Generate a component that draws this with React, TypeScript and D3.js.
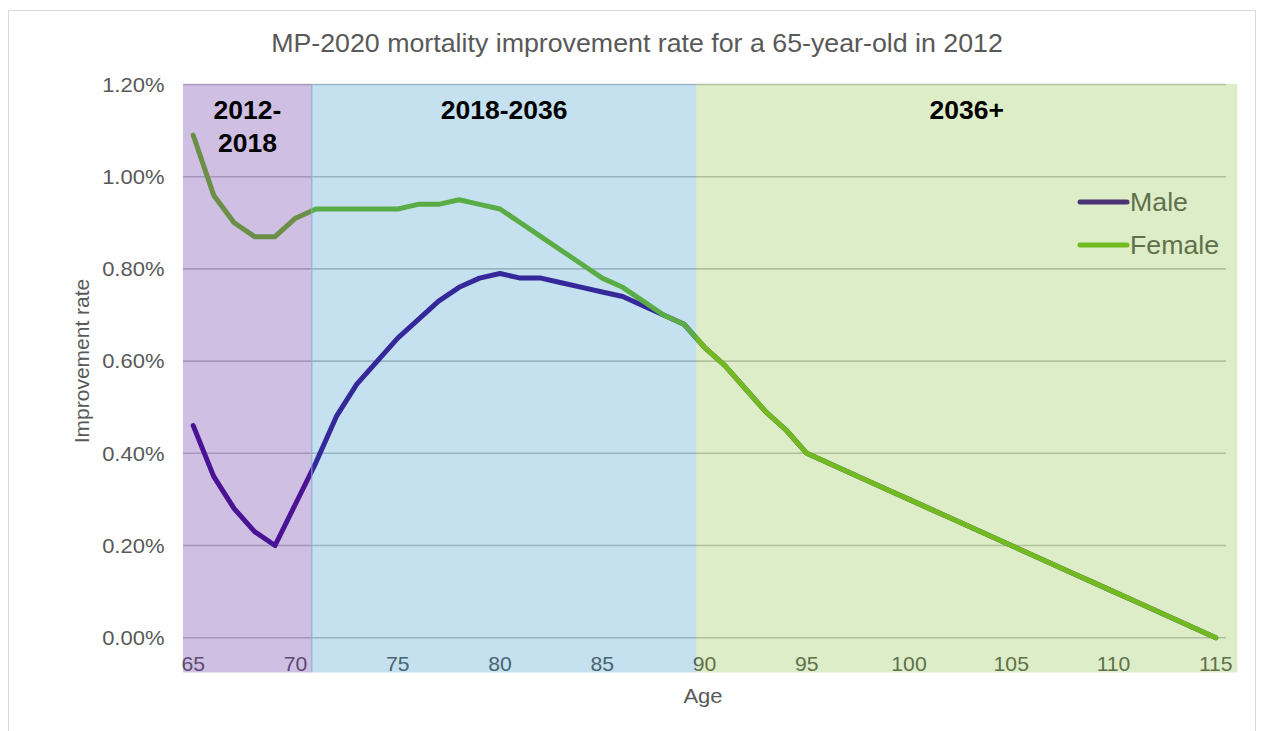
import React from "react";
import * as d3 from "d3";

const ages = d3.range(65, 116);

const maleRates = [
  0.46, 0.35, 0.28, 0.23, 0.2, 0.29, 0.38, 0.48, 0.55, 0.6, 0.65, 0.69, 0.73,
  0.76, 0.78, 0.79, 0.78, 0.78, 0.77, 0.76, 0.75, 0.74, 0.72, 0.7, 0.68, 0.63,
  0.59, 0.54, 0.49, 0.45, 0.4, 0.38, 0.36, 0.34, 0.32, 0.3, 0.28, 0.26, 0.24,
  0.22, 0.2, 0.18, 0.16, 0.14, 0.12, 0.1, 0.08, 0.06, 0.04, 0.02, 0.0,
];

const femaleRates = [
  1.09, 0.96, 0.9, 0.87, 0.87, 0.91, 0.93, 0.93, 0.93, 0.93, 0.93, 0.94, 0.94,
  0.95, 0.94, 0.93, 0.9, 0.87, 0.84, 0.81, 0.78, 0.76, 0.73, 0.7, 0.68, 0.63,
  0.59, 0.54, 0.49, 0.45, 0.4, 0.38, 0.36, 0.34, 0.32, 0.3, 0.28, 0.26, 0.24,
  0.22, 0.2, 0.18, 0.16, 0.14, 0.12, 0.1, 0.08, 0.06, 0.04, 0.02, 0.0,
];

const yTicks = [0, 0.2, 0.4, 0.6, 0.8, 1.0, 1.2];
const xTicks = [65, 70, 75, 80, 85, 90, 95, 100, 105, 110, 115];

// projection periods shaded over the curves (age ranges)
const periodLabels = [["2012-", "2018"], ["2018-2036"], ["2036+"]];
const periodStart = [64.5, 70.8, 89.6];
const periodEnd = [70.8, 89.6, 116.05];
const periodColors = ["#5f2aa2", "#1783bb", "#73b723"];
const periodOpacity = [0.3, 0.25, 0.25];

const seriesNames = ["Male", "Female"];
const seriesColors = ["#3f0a8f", "#70bb1f"];

const font = "'Liberation Sans', Arial, sans-serif";
const grey = "#595959";

// the original picture is a little wider than tall, so text gets stretched too
const at = (x: number, y: number, sx: number) =>
  `translate(${x},${y}) scale(${sx},1)`;

const App = () => {
  const width = 1265;
  const height = 731;
  const x = d3.scaleLinear().domain([64.5, 115.5]).range([183, 1226]);
  const y = d3.scaleLinear().domain([0, 1.2]).range([637.7, 84.5]);
  const bandTop = 84;
  const bandBottom = 672.5;

  const line = d3
    .line<number>()
    .x((d, i) => x(ages[i]))
    .y((d) => y(d));

  const series = [maleRates, femaleRates];

  return (
    <div style={{ position: "absolute", left: 0, top: 0 }}>
      <svg width={width} height={height} style={{ display: "block" }}>
        <rect width={width} height={height} fill="#fff" />
        <rect
          x={8.5}
          y={10.5}
          width={1247}
          height={740}
          fill="none"
          stroke="#d9d9d9"
          strokeWidth={1}
        />
        <text
          transform={at(637, 52, 1.05)}
          textAnchor="middle"
          fontFamily={font}
          fontSize={25.5}
          fill={grey}
        >
          MP-2020 mortality improvement rate for a 65-year-old in 2012
        </text>

        {yTicks.map((t) => (
          <g key={t}>
            <line
              x1={x.range()[0]}
              x2={x.range()[1]}
              y1={y(t)}
              y2={y(t)}
              stroke="#c4c4c4"
              strokeWidth={1.6}
            />
            <text
              transform={at(164.5, y(t), 1.1)}
              dy="0.36em"
              textAnchor="end"
              fontFamily={font}
              fontSize={20}
              fill={grey}
            >
              {d3.format(".2f")(t) + "%"}
            </text>
          </g>
        ))}

        {xTicks.map((t) => (
          <text
            key={t}
            transform={at(x(t), 671, 1.06)}
            textAnchor="middle"
            fontFamily={font}
            fontSize={20}
            fill={grey}
          >
            {t}
          </text>
        ))}

        <text
          transform={at(703, 703, 1.05)}
          textAnchor="middle"
          fontFamily={font}
          fontSize={21}
          fill={grey}
        >
          Age
        </text>
        <text
          transform={`translate(89,361) rotate(-90)`}
          textAnchor="middle"
          fontFamily={font}
          fontSize={21}
          fill={grey}
        >
          Improvement rate
        </text>

        {series.map((s, i) => (
          <path
            key={seriesNames[i]}
            d={line(s) || ""}
            fill="none"
            stroke={seriesColors[i]}
            strokeWidth={5}
            strokeLinejoin="round"
            strokeLinecap="round"
          />
        ))}

        {seriesNames.map((name, i) => (
          <g key={name} transform={`translate(1080,${202 + i * 43})`}>
            <line
              x1={0}
              x2={47}
              y1={0}
              y2={0}
              stroke={seriesColors[i]}
              strokeWidth={5}
              strokeLinecap="round"
            />
            <text
              transform={at(50, 0, 1.07)}
              dy="0.36em"
              fontFamily={font}
              fontSize={25}
              fill={grey}
            >
              {name}
            </text>
          </g>
        ))}

        {periodStart.map((s, i) => (
          <rect
            key={i}
            x={x(s)}
            y={bandTop}
            width={x(periodEnd[i]) - x(s)}
            height={bandBottom - bandTop}
            fill={periodColors[i]}
            fillOpacity={periodOpacity[i]}
          />
        ))}
        <line
          x1={x(periodStart[1])}
          x2={x(periodStart[1])}
          y1={bandTop}
          y2={bandBottom}
          stroke="#8aaed0"
          strokeWidth={1}
        />

        {periodLabels.map((lines, i) => {
          const cx = (x(periodStart[i]) + x(periodEnd[i])) / 2;
          return (
            <text
              key={i}
              transform={at(cx, 119, 1.06)}
              textAnchor="middle"
              fontFamily={font}
              fontSize={25}
              fontWeight="bold"
              fill="#000"
            >
              {lines.map((l, j) => (
                <tspan key={j} x={0} dy={j === 0 ? 0 : 33}>
                  {l}
                </tspan>
              ))}
            </text>
          );
        })}
      </svg>
    </div>
  );
};

export default App;
